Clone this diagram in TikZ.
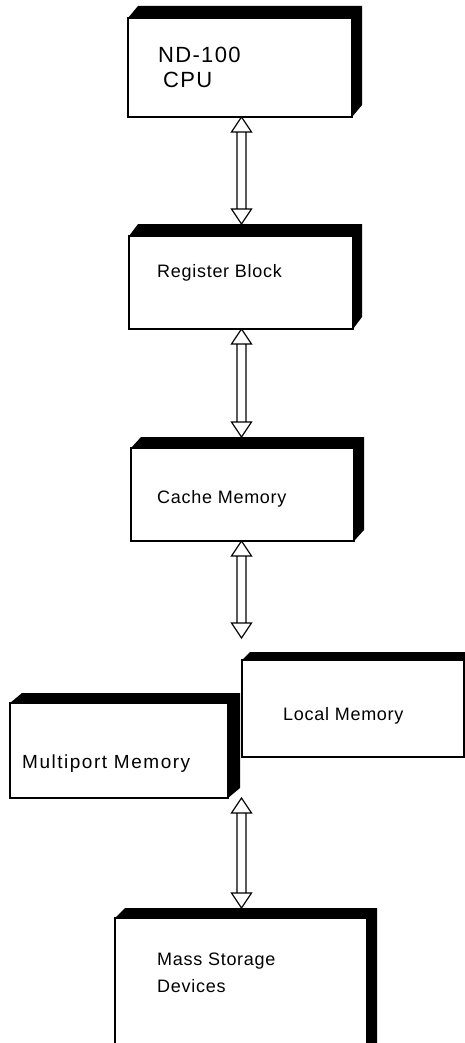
\documentclass[tikz,border=0pt]{standalone}
\usepackage{fontspec}
\setmainfont{Liberation Sans}
\usetikzlibrary{calc}
\pgfdeclarelayer{background}
\pgfsetlayers{background,main}
\newcommand\slabof[3]{%
  \begin{pgfonlayer}{background}
    \fill[black] (#1.north west) -- ++(#2,-#3) -- ($(#1.north east)+(#2,-#3)$)
      -- ($(#1.south east)+(#2,-#3)$) -- (#1.south east) -- cycle;
  \end{pgfonlayer}}
\newcommand\dblarrow[2]{%
  \draw[arr] let \p1=(#1), \p2=(#2) in
    (\x1,\y1) -- (\x1-10pt,\y1-15pt) -- (\x1+10pt,\y1-15pt) -- cycle
    (\x2,\y2) -- (\x2-10pt,\y2+15pt) -- (\x2+10pt,\y2+15pt) -- cycle
    (\x1-4.5pt,\y1-15pt) -- (\x1-4.5pt,\y2+15pt)
    (\x1+4.5pt,\y1-15pt) -- (\x1+4.5pt,\y2+15pt);}
\begin{document}
\begin{tikzpicture}[x=1pt,y=-1pt,
  face/.style={draw, fill=white, line width=1.3pt, inner sep=0pt, outer sep=0pt, anchor=north west},
  lbl/.style={anchor=base west, inner sep=0pt, font=\fontsize{18}{20}\selectfont\addfontfeature{LetterSpace=4}},
  big/.style={anchor=base west, inner sep=0pt, font=\fontsize{22}{24}\selectfont\addfontfeature{LetterSpace=6}},
  arr/.style={line width=1.2pt, line join=miter}]
\useasboundingbox (0,0) rectangle (465,1043);
\begin{pgfonlayer}{background}
  \fill[white] (0,0) rectangle (465,1043);
\end{pgfonlayer}
\coordinate (axis) at (241.5,0);
% boxes
\node[face, minimum width=224pt, minimum height=99pt] (cpu) at (128,18) {};
\slabof{cpu}{10}{12}
\node[face, minimum width=224pt, minimum height=93pt] (reg) at (129,236) {};
\slabof{reg}{9}{12}
\node[face, minimum width=223pt, minimum height=93pt] (cache) at (131,448) {};
\slabof{cache}{10}{11}
\node[face, minimum width=222pt, minimum height=97pt] (local) at (242,660) {};
\slabof{local}{8}{8}
\node[face, minimum width=218pt, minimum height=95pt] (multi) at (10,703) {};
\slabof{multi}{12}{10}
\node[face, minimum width=252pt, minimum height=150pt] (mass) at (115,918) {};
\slabof{mass}{10}{10}
% texts
\node[big] (cpu-a) at (158,63) {ND-100};
\node[big] (cpu-b) at (163,88) {CPU};
\node[lbl] (reg-t) at (157,277) {Register Block};
\node[lbl] (cache-t) at (157,503) {Cache Memory};
\node[lbl] (local-t) at (283,720) {Local Memory};
\node[lbl, font=\fontsize{19}{20}\selectfont\addfontfeature{LetterSpace=8}] (multi-t) at (22,768) {Multiport Memory};
\node[lbl] (mass-a) at (157,965) {Mass Storage};
\node[lbl] (mass-b) at (157,992) {Devices};
% connectors
\coordinate (cachegap) at (241.5,638);
\dblarrow{cpu.south -| axis}{$(reg.north -| axis)+(0,-12)$}
\dblarrow{reg.south -| axis}{$(cache.north -| axis)+(0,-11)$}
\dblarrow{cache.south -| axis}{cachegap}
\dblarrow{multi.south -| axis}{$(mass.north -| axis)+(0,-10)$}
\end{tikzpicture}
\end{document}
